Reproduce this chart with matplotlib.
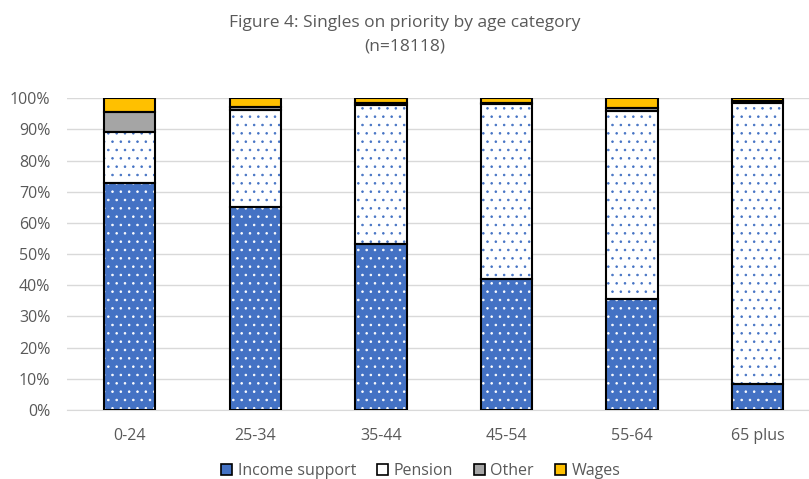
import matplotlib.pyplot as plt
import matplotlib.patches as mpatches
import numpy as np

plt.rcParams['font.family'] = ['Open Sans', 'DejaVu Sans']
plt.rcParams['hatch.linewidth'] = 0.6

categories = ["0-24", "25-34", "35-44", "45-54", "55-64", "65 plus"]
income_support = [72.8, 65.0, 53.3, 42.0, 35.5, 8.5]
pension = [16.4, 31.2, 44.5, 56.0, 60.4, 89.8]
other = [6.5, 1.0, 0.7, 0.3, 1.1, 0.7]
wages = [4.3, 2.8, 1.5, 1.7, 3.0, 1.0]

series = [
    ("Income support", income_support, "#4472c4", "white"),
    ("Pension", pension, "white", "#4472c4"),
    ("Other", other, "#a5a5a5", "#a5a5a5"),
    ("Wages", wages, "#ffc000", "#ffc000"),
]

fig = plt.figure(figsize=(8.09, 4.79), dpi=100)
ax = fig.add_axes([0.0828, 0.144, 0.9172, 0.651])

x = np.arange(len(categories))
width = 0.41
bottom = np.zeros(len(categories))
handles = []
for name, vals, face, dots in series:
    vals = np.array(vals)
    hatch = ".." if name in ("Income support", "Pension") else None
    ax.bar(x, vals, width, bottom=bottom, color=face, edgecolor=dots,
           hatch=hatch, linewidth=0, zorder=2)
    ax.bar(x, vals, width, bottom=bottom, facecolor="none",
           edgecolor="black", linewidth=1.5, zorder=3)
    bottom += vals
    handles.append(mpatches.Patch(facecolor=face, edgecolor="black",
                                  linewidth=1.2, label=name))

ax.set_ylim(0, 100)
ax.set_xlim(-0.5, 5.41)
ax.set_yticks(np.arange(0, 101, 10))
ax.set_yticklabels([f"{v}%" for v in range(0, 101, 10)])
ax.set_xticks(x)
ax.set_xticklabels(categories)
ax.tick_params(axis="both", length=0, colors="#595959", labelsize=11.5)
ax.tick_params(axis="x", pad=13)
ax.tick_params(axis="y", pad=12)
ax.grid(axis="y", color="#d9d9d9", linewidth=1, zorder=0)
for s in ["top", "right", "left"]:
    ax.spines[s].set_visible(False)
ax.spines["bottom"].set_color("#d9d9d9")

fig.text(0.5, 0.968, "Figure 4: Singles on priority by age category\n(n=18118)",
         ha="center", va="top", fontsize=12.5, color="#595959", linespacing=1.6)

fig.legend(handles=handles, loc="lower center", ncol=4, frameon=False,
           bbox_to_anchor=(0.52, -0.03), fontsize=11.5, handlelength=0.7,
           handleheight=0.7, handletextpad=0.35, columnspacing=1.3,
           labelcolor="#595959")

fig.savefig("out.png", dpi=100)
